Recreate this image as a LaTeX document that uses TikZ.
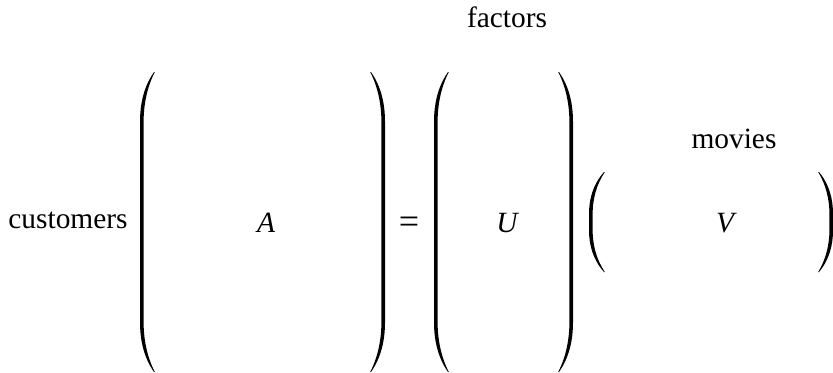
\documentclass[tikz,border=0pt]{standalone}
\usepackage{fontspec}
\setmainfont{Liberation Serif}
\usepackage{tikz}
\usetikzlibrary{positioning, calc}

% big round bracket: outer x, side (1 left, -1 right), tip offset, top, bottom, curve length
\newcommand{\bigpar}[6]{%
  \fill ({#1+(#2)*(#3)},#4)
    .. controls ({#1+(#2)*0.25*(#3)},{#4+0.3*#6}) and (#1,{#4+0.65*#6}) .. (#1,{#4+#6})
    -- (#1,{#5-#6})
    .. controls (#1,{#5-0.65*#6}) and ({#1+(#2)*0.25*(#3)},{#5-0.3*#6}) .. ({#1+(#2)*(#3)},#5)
    -- ({#1+(#2)*(#3+0.8)},#5)
    .. controls ({#1+(#2)*(0.25*#3+3.6)},{#5-0.3*#6}) and ({#1+(#2)*3.6},{#5-0.65*#6}) .. ({#1+(#2)*3.6},{#5-#6})
    -- ({#1+(#2)*3.6},{#4+#6})
    .. controls ({#1+(#2)*3.6},{#4+0.65*#6}) and ({#1+(#2)*(0.25*#3+3.6)},{#4+0.3*#6}) .. ({#1+(#2)*(#3+0.8)},#4)
    -- cycle;}

\begin{document}
\begin{tikzpicture}[
  x=0.5pt, y=-0.5pt,
  every node/.style={font=\fontsize{14.7}{17}\selectfont, inner sep=0pt, anchor=base},
  entry/.style={font=\fontsize{14.7}{17}\selectfont\itshape},
]
  \useasboundingbox (0,0) rectangle (833,372);

  % labels
  \node (cust) at (68,228) {customers};
  \node (fac) at (507,27) {factors};
  \node (mov) at (734,148) {movies};

  % matrices
  \node[entry] (A) at (266,232) {A};
  \node[font=\fontsize{18}{20}\selectfont] (eq) at (409,233) {=};
  \node[entry] (U) at (507,232) {U};
  \node[entry] (V) at (725,232) {V};

  % brackets
  \bigpar{140}{1}{14}{72}{372}{50}
  \bigpar{385}{-1}{14}{72}{372}{50}
  \bigpar{434}{1}{14}{72}{372}{50}
  \bigpar{573}{-1}{14}{72}{372}{50}
  \bigpar{589}{1}{15}{172}{272}{42}
  \bigpar{833}{-1}{14}{172}{272}{42}
\end{tikzpicture}
\end{document}
